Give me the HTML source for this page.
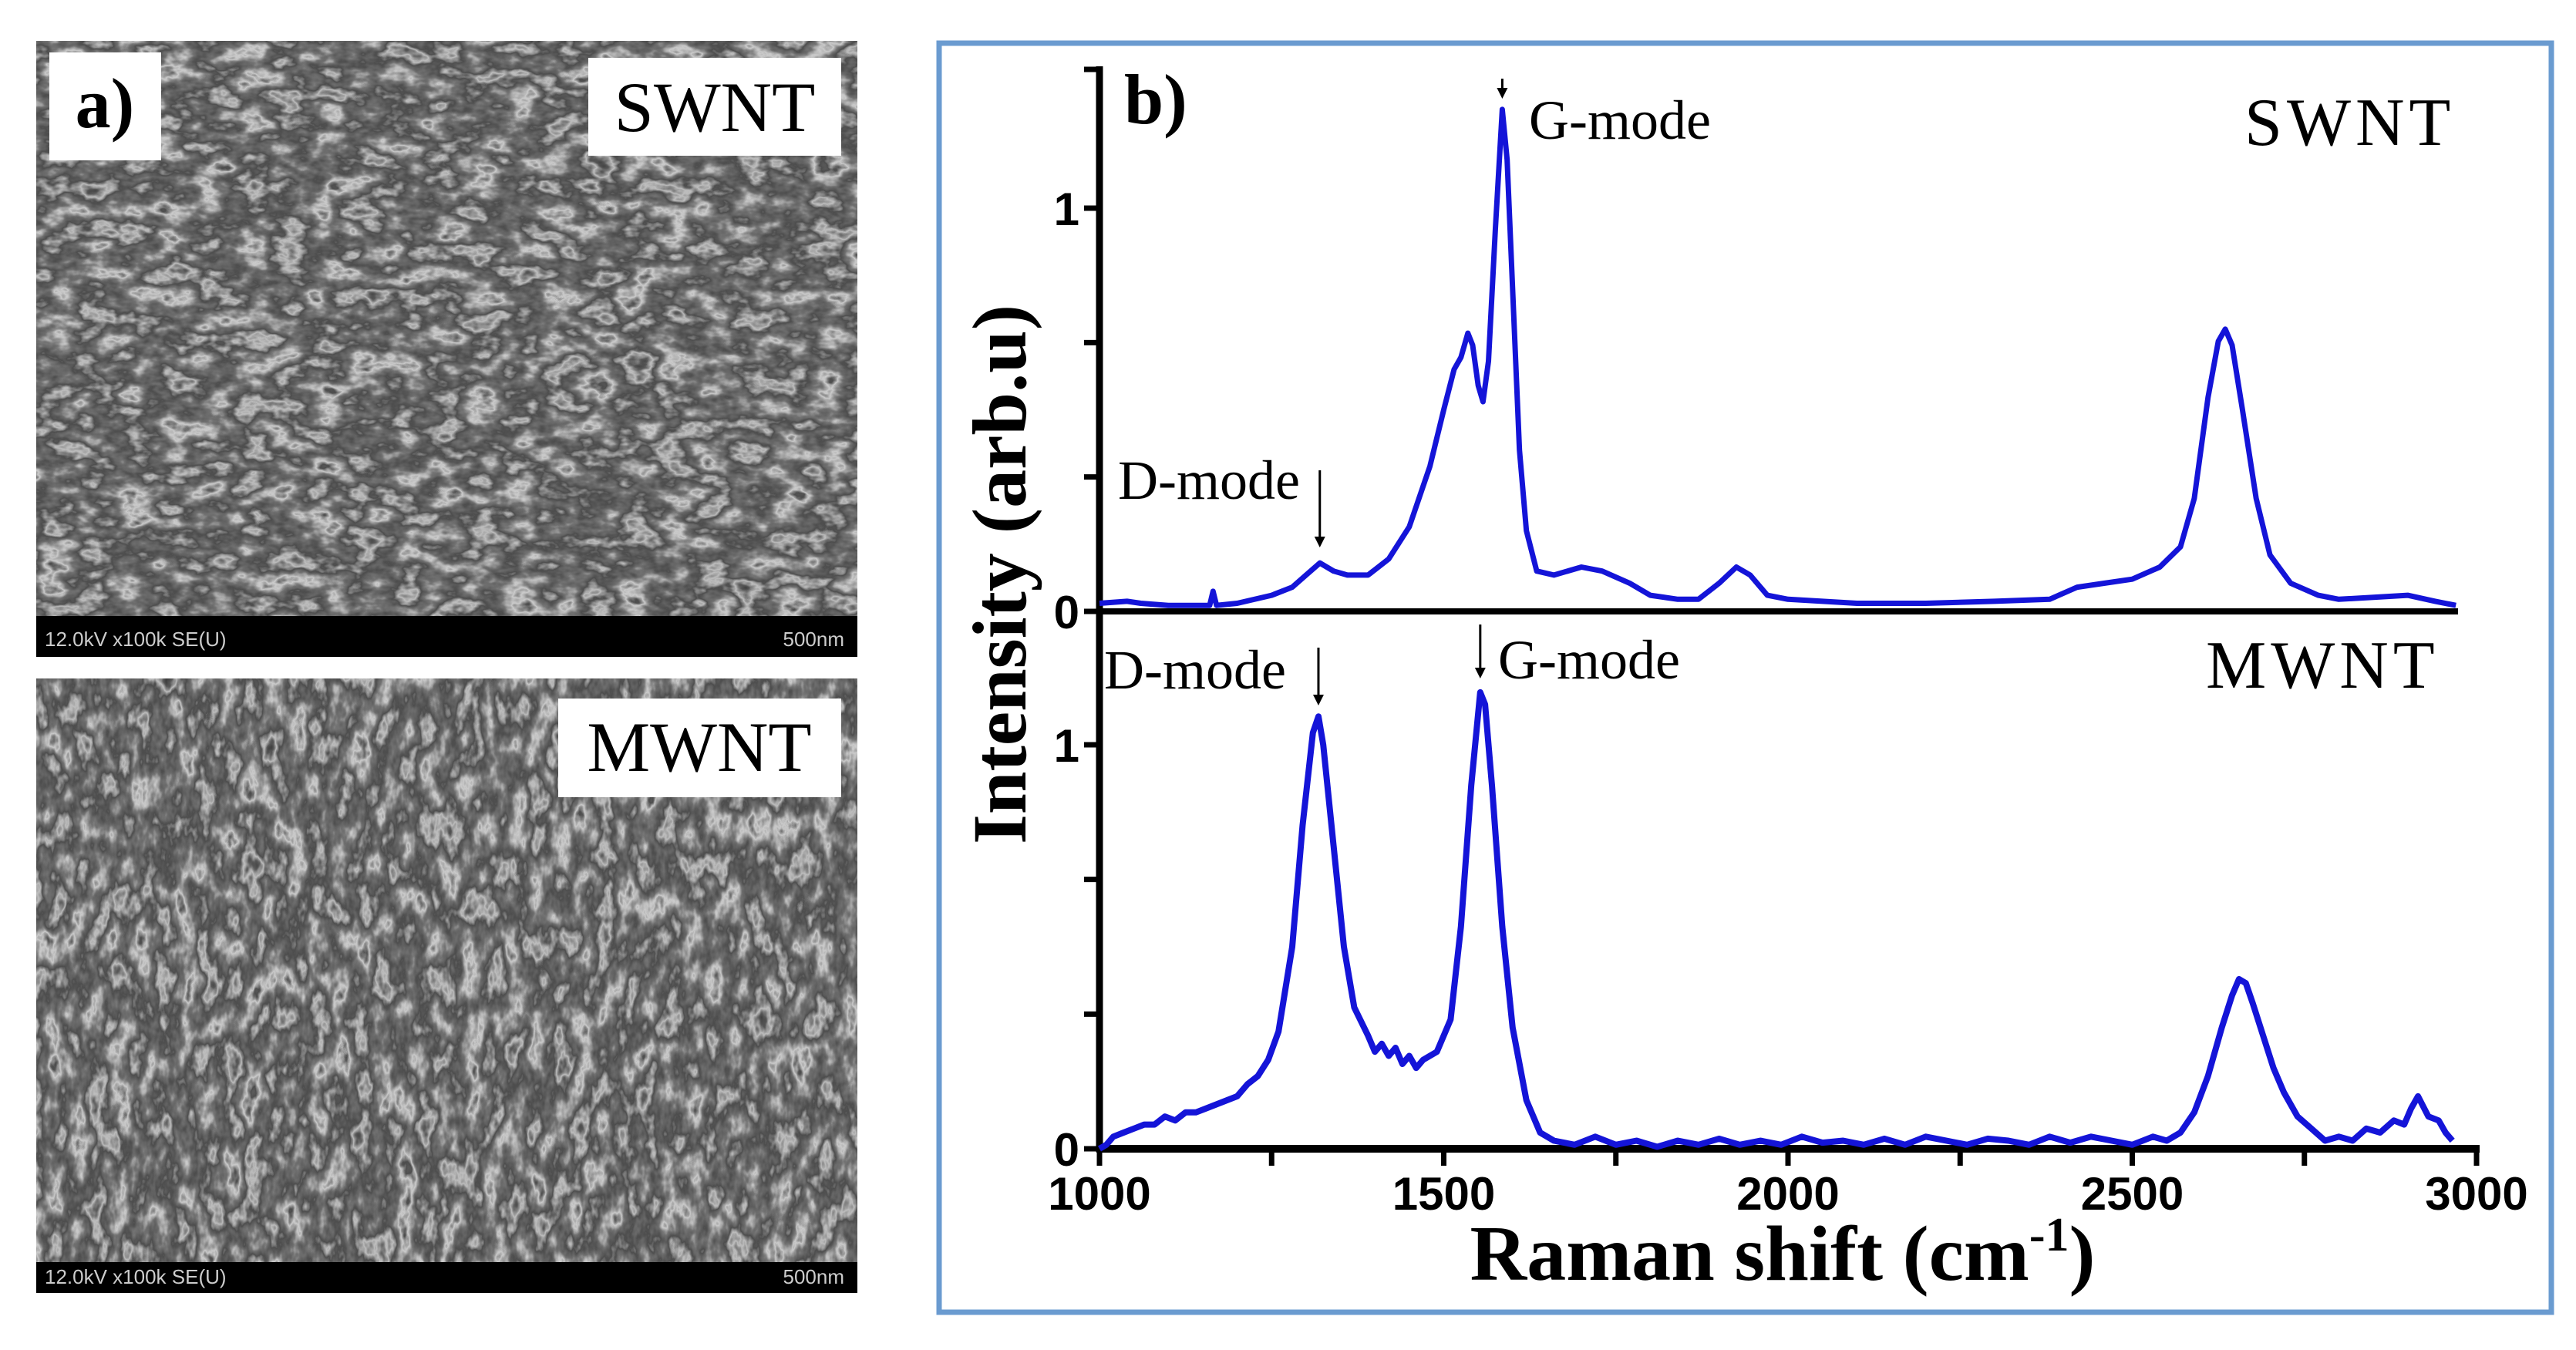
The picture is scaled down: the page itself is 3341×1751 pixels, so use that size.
<!DOCTYPE html>
<html><head><meta charset="utf-8">
<style>
html,body{margin:0;padding:0;background:#fff;}
body{width:3341px;height:1746px;position:relative;overflow:hidden;font-family:"Liberation Serif",serif;}
</style></head>
<body>
<svg width="3341" height="1746" viewBox="0 0 3341 1746" xmlns="http://www.w3.org/2000/svg">
<defs>
<filter id="fib" x="0" y="0" width="100%" height="100%" color-interpolation-filters="sRGB">
<feTurbulence type="fractalNoise" baseFrequency="0.02 0.035" numOctaves="4" seed="3" result="n"/>
<feColorMatrix type="matrix" values="1 0 0 0 0  1 0 0 0 0  1 0 0 0 0  0 0 0 0 1" in="n" result="gray"/>
<feComponentTransfer in="gray"><feFuncR type="table" tableValues="0.2 0.35 0.75 0.3 0.45 0.8 0.3 0.4"/><feFuncG type="table" tableValues="0.2 0.35 0.75 0.3 0.45 0.8 0.3 0.4"/><feFuncB type="table" tableValues="0.2 0.35 0.75 0.3 0.45 0.8 0.3 0.4"/></feComponentTransfer>
</filter>
<filter id="fib2" x="0" y="0" width="100%" height="100%" color-interpolation-filters="sRGB">
<feTurbulence type="fractalNoise" baseFrequency="0.035 0.02" numOctaves="4" seed="9" result="n"/>
<feColorMatrix type="matrix" values="1 0 0 0 0  1 0 0 0 0  1 0 0 0 0  0 0 0 0 1" in="n" result="gray"/>
<feComponentTransfer in="gray"><feFuncR type="table" tableValues="0.2 0.35 0.75 0.3 0.45 0.8 0.3 0.4"/><feFuncG type="table" tableValues="0.2 0.35 0.75 0.3 0.45 0.8 0.3 0.4"/><feFuncB type="table" tableValues="0.2 0.35 0.75 0.3 0.45 0.8 0.3 0.4"/></feComponentTransfer>
</filter>
</defs>

<g>
<rect x="47" y="53" width="1065" height="746" fill="#6e6e6e"/>
<rect x="47" y="53" width="1065" height="746" filter="url(#fib)"/>
<rect x="47" y="799" width="1065" height="53" fill="#000"/>
<text x="58" y="838" font-family="Liberation Sans, sans-serif" font-size="26" fill="#ccc">12.0kV x100k SE(U)</text>
<text x="1095" y="838" text-anchor="end" font-family="Liberation Sans, sans-serif" font-size="26" fill="#ccc">500nm</text>
<rect x="64" y="68" width="145" height="140" fill="#fff"/>
<text x="136" y="165" text-anchor="middle" font-size="92" font-weight="bold">a)</text>
<rect x="763" y="75" width="328" height="127" fill="#fff"/>
<text x="927" y="170" text-anchor="middle" font-size="92">SWNT</text>
</g>
<g>
<rect x="47" y="880" width="1065" height="757" fill="#6e6e6e"/>
<rect x="47" y="880" width="1065" height="757" filter="url(#fib2)"/>
<rect x="47" y="1637" width="1065" height="40" fill="#000"/>
<text x="58" y="1665" font-family="Liberation Sans, sans-serif" font-size="26" fill="#ccc">12.0kV x100k SE(U)</text>
<text x="1095" y="1665" text-anchor="end" font-family="Liberation Sans, sans-serif" font-size="26" fill="#ccc">500nm</text>
<rect x="724" y="906" width="367" height="128" fill="#fff"/>
<text x="907" y="1000" text-anchor="middle" font-size="92">MWNT</text>
</g>

<rect x="1218" y="56" width="2091" height="1646" fill="#fff" stroke="#6a9bd0" stroke-width="7"/>

<g id="chart"></g>
</svg>
<script>
const xTicks = [1000, 1500, 2000, 2500, 3000];
const xMinor = [1250, 1750, 2250, 2750];
const swntX = [1000,1040,1060,1100,1160,1165,1170,1200,1250,1280,1300,1320,1340,1360,1390,1420,1450,1480,1500,1515,1525,1535,1542,1550,1557,1565,1575,1585,1592,1600,1610,1620,1635,1660,1700,1730,1770,1800,1840,1870,1900,1925,1945,1970,2000,2100,2200,2300,2380,2420,2460,2500,2540,2570,2590,2610,2625,2635,2645,2660,2680,2700,2730,2770,2800,2850,2900,2940,2970];
const swntY = [0.02,0.025,0.02,0.015,0.015,0.05,0.015,0.02,0.04,0.06,0.09,0.12,0.1,0.09,0.09,0.13,0.21,0.36,0.5,0.6,0.63,0.69,0.66,0.56,0.52,0.62,0.95,1.245,1.12,0.8,0.4,0.2,0.1,0.09,0.11,0.1,0.07,0.04,0.03,0.03,0.07,0.11,0.09,0.04,0.03,0.02,0.02,0.025,0.03,0.06,0.07,0.08,0.11,0.16,0.28,0.53,0.67,0.70,0.66,0.5,0.28,0.14,0.07,0.04,0.03,0.035,0.04,0.025,0.015];
const mwntX = [1000,1010,1020,1035,1050,1065,1080,1095,1110,1125,1140,1155,1170,1185,1200,1215,1230,1245,1260,1280,1295,1310,1318,1325,1340,1355,1370,1390,1400,1410,1420,1430,1440,1450,1460,1470,1490,1510,1525,1540,1553,1560,1570,1585,1600,1620,1640,1660,1690,1720,1750,1780,1810,1840,1870,1900,1930,1960,1990,2020,2050,2080,2110,2140,2170,2200,2230,2260,2290,2320,2350,2380,2410,2440,2470,2500,2530,2550,2570,2590,2610,2630,2645,2655,2665,2675,2690,2705,2720,2740,2760,2780,2800,2820,2840,2860,2880,2895,2905,2915,2930,2945,2955,2965];
const mwntY = [0.0,0.01,0.03,0.04,0.05,0.06,0.06,0.08,0.07,0.09,0.09,0.1,0.11,0.12,0.13,0.16,0.18,0.22,0.29,0.5,0.8,1.03,1.07,1.0,0.75,0.5,0.35,0.28,0.24,0.26,0.23,0.25,0.21,0.23,0.2,0.22,0.24,0.32,0.55,0.9,1.13,1.1,0.9,0.55,0.3,0.12,0.04,0.02,0.01,0.03,0.01,0.02,0.005,0.02,0.01,0.025,0.01,0.02,0.01,0.03,0.015,0.02,0.01,0.025,0.01,0.03,0.02,0.01,0.025,0.02,0.01,0.03,0.015,0.03,0.02,0.01,0.03,0.02,0.04,0.09,0.18,0.3,0.38,0.42,0.41,0.36,0.28,0.2,0.14,0.08,0.05,0.02,0.03,0.02,0.05,0.04,0.07,0.06,0.1,0.13,0.08,0.07,0.04,0.02];
const yTicks = [0, 1];

const NS = 'http://www.w3.org/2000/svg';
const g = document.getElementById('chart');
const X0 = 1426, X1 = 3212;
const sx = v => X0 + (v - 1000) / 2000 * (X1 - X0);
const topY = v => 793 - v * 523;
const botY = v => 1490 - v * 524;
function mk(tag, attrs, parent) {
  const e = document.createElementNS(NS, tag);
  for (const k in attrs) e.setAttribute(k, attrs[k]);
  (parent || g).appendChild(e);
  return e;
}
let e;
e = mk('line', {x1: X0, y1: 86, x2: X0, y2: 1494, stroke: '#000', 'stroke-width': 9});


e = mk('line', {x1: X0 - 20, y1: 90, x2: X0, y2: 90, stroke: '#000', 'stroke-width': 7});


e = mk('line', {x1: X0, y1: 793, x2: 3188, y2: 793, stroke: '#000', 'stroke-width': 8});


e = mk('line', {x1: X0 - 4, y1: 1490, x2: X1 + 4, y2: 1490, stroke: '#000', 'stroke-width': 10});


xTicks.concat(xMinor).forEach(v => {
  const t = mk('line', {x1: sx(v), y1: 1490, x2: sx(v), y2: 1512, stroke: '#000', 'stroke-width': 7});
  
  
});
xTicks.forEach(v => {
  const t = mk('text', {x: sx(v), y: 1569, 'text-anchor': 'middle', 'font-family': 'Liberation Sans, sans-serif', 'font-weight': 'bold', 'font-size': 60});
  t.textContent = v;
  
  
});
[[topY, 'top'], [botY, 'bottom']].forEach(([f, nm]) => {
  [0, 1/3, 2/3, 1].forEach(v => {
    const t = mk('line', {x1: X0 - 20, y1: f(v), x2: X0, y2: f(v), stroke: '#000', 'stroke-width': 7});
    
    
  });
  yTicks.forEach(v => {
    const t = mk('text', {x: X0 - 26, y: f(v) + 22, 'text-anchor': 'end', 'font-family': 'Liberation Sans, sans-serif', 'font-weight': 'bold', 'font-size': 60});
    t.textContent = v;
    
    
  });
});
function series(xs, ys, f, name, w) {
  const pts = xs.map((x, i) => sx(x).toFixed(1) + ',' + f(ys[i]).toFixed(1)).join(' ');
  const p = mk('polyline', {points: pts, fill: 'none', stroke: '#1414d8', 'stroke-width': w, 'stroke-linejoin': 'round'});
  
  
}
series(swntX, swntY, topY, 'swnt-spectrum', 7);
series(mwntX, mwntY, botY, 'mwnt-spectrum', 8);
function txt(x, y, s, size, name, extra) {
  const t = mk('text', Object.assign({x: x, y: y, 'font-family': 'Liberation Serif, serif', 'font-size': size}, extra || {}));
  t.textContent = s;
  
  
  return t;
}
txt(1458, 160, 'b)', 92, 'panel-b-label', {'font-weight': 'bold'});
txt(2911, 188, 'SWNT', 88, 'swnt-label', {'letter-spacing': '6'});
txt(2861, 892, 'MWNT', 88, 'mwnt-label', {'letter-spacing': '6'});
txt(1983, 180, 'G-mode', 72, 'swnt-g-mode-label');
txt(1450, 647, 'D-mode', 72, 'swnt-d-mode-label');
txt(1432, 893, 'D-mode', 72, 'mwnt-d-mode-label');
txt(1943, 880, 'G-mode', 72, 'mwnt-g-mode-label');
function arrow(x, y1, y2, name) {
  const l = mk('line', {x1: x, y1: y1, x2: x, y2: y2 - 8, stroke: '#000', 'stroke-width': 3});
  
  
  const h = mk('polygon', {points: (x-7)+','+(y2-14)+' '+(x+7)+','+(y2-14)+' '+x+','+y2, fill: '#000'});
  
  
}
arrow(sx(1320), 610, 710, 'swnt-d-arrow');
arrow(sx(1585), 102, 128, 'swnt-g-arrow');
arrow(sx(1318), 840, 915, 'mwnt-d-arrow');
arrow(sx(1553), 810, 880, 'mwnt-g-arrow');
const xt = txt(2312, 1660, 'Raman shift (cm', 102, 'x-axis-title', {'font-weight': 'bold', 'text-anchor': 'middle'});
const sup = document.createElementNS(NS, 'tspan');
sup.setAttribute('dy', '-38'); sup.setAttribute('font-size', '62'); sup.textContent = '-1';
xt.appendChild(sup);
const cl = document.createElementNS(NS, 'tspan');
cl.setAttribute('dy', '38'); cl.textContent = ')';
xt.appendChild(cl);
txt(1330, 745, 'Intensity (arb.u)', 100, 'y-axis-title', {'font-weight': 'bold', 'text-anchor': 'middle', transform: 'rotate(-90 1330 745)'});
</script>
</body></html>
